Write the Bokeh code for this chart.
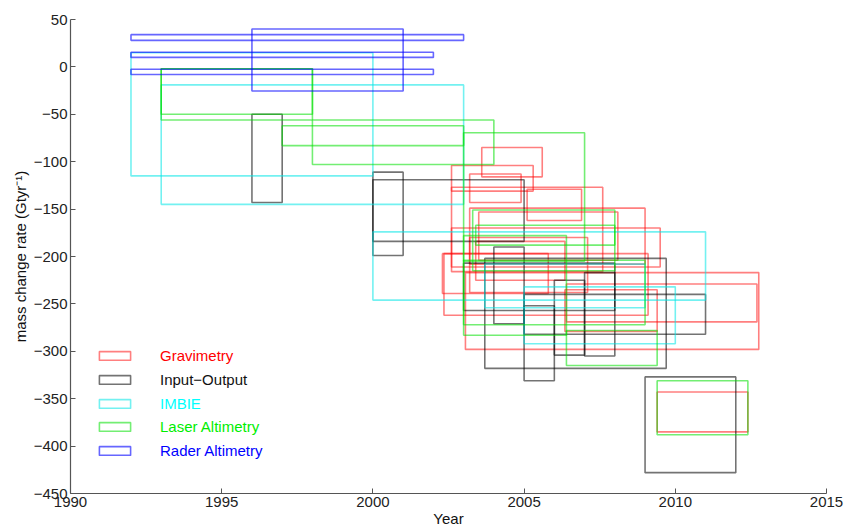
from bokeh.plotting import figure
from bokeh.models import Legend, LegendItem, FixedTicker, Range1d
from bokeh.embed import file_html
from bokeh.resources import INLINE

# ---------------- data (years / Gt per yr) ----------------
x_ticks = [1990, 1995, 2000, 2005, 2010, 2015]
y_ticks = [-450, -400, -350, -300, -250, -200, -150, -100, -50, 0, 50]

grav_start = [2003.6, 2002.6, 2003.2, 2005.1, 2002.6, 2003.2, 2003.5, 2002.6,
              2002.35, 2003.06, 2006.35, 2002.3, 2006.4, 2009.4, 2003.4, 2003.2]
grav_end = [2005.6, 2005.3, 2004.9, 2006.9, 2007.6, 2009.0, 2008.1, 2009.5,
            2009.1, 2012.76, 2009.4, 2005.8, 2012.7, 2012.4, 2006.35, 2007.1]
grav_low = [-116, -131, -143, -162, -216, -208, -204, -211,
            -262, -298, -279, -239, -269, -385, -225, -238]
grav_high = [-85, -104, -113, -129, -127, -149, -153, -170,
             -197, -217, -235, -197, -229, -343, -184, -180]

io_start = [1996, 2000, 2000, 2004, 2003.7, 2003, 2005, 2006, 2005, 2007, 2009]
io_end = [1997, 2001, 2005, 2005, 2009.7, 2008, 2011, 2007, 2006, 2008, 2012]
io_low = [-143, -199, -184, -271, -318, -257, -282, -304, -331, -305, -428]
io_high = [-50, -111, -119, -190, -202, -207, -240, -225, -252, -217, -327]

imbie_start = [1992, 1993, 2000, 2003.7, 2005]
imbie_end = [2000, 2003, 2011, 2009, 2010]
imbie_low = [-115, -145, -246, -254, -292]
imbie_high = [15, -19, -174, -208, -232]

laser_start = [1993, 1993, 1998, 1997, 2003, 2003.3, 2006.4, 2003, 2009.4, 2003.4, 2003]
laser_end = [1998, 1998, 2004, 2003, 2007, 2008, 2009.4, 2006.4, 2012.4, 2008, 2009]
laser_low = [-56, -50, -103, -83, -205, -215, -315, -283, -388, -188, -272]
laser_high = [-2, -2, -56, -62, -69.5, -151, -278, -178, -331, -167, -204]

radar_start = [1992, 1992, 1992, 1996]
radar_end = [2003, 2002, 2002, 2001]
radar_low = [28, 10, -8, -25.5]
radar_high = [34, 15.5, -2.5, 40]

series_names = ["Gravimetry", "Input\u2212Output", "IMBIE", "Laser Altimetry", "Rader Altimetry"]
series_colors = ["#ff0000", "#000000", "#00e5e5", "#00e000", "#0000ff"]
text_colors = ["#ff0000", "#111111", "#00ffff", "#00ee00", "#0000ff"]
series_alpha = [0.5, 0.55, 0.55, 0.55, 0.6]

series = [
    (grav_start, grav_end, grav_low, grav_high),
    (io_start, io_end, io_low, io_high),
    (imbie_start, imbie_end, imbie_low, imbie_high),
    (laser_start, laser_end, laser_low, laser_high),
    (radar_start, radar_end, radar_low, radar_high),
]

FONT = "Liberation Sans"

p = figure(width=846, height=530, output_backend="svg", toolbar_location=None,
           x_range=Range1d(1990, 2015), y_range=Range1d(-450, 50),
           min_border_left=70, min_border_right=20, min_border_top=19,
           min_border_bottom=37)
p.outline_line_color = None
p.grid.visible = False
p.background_fill_color = "white"

renderers = []
for (s, e, lo, hi), c, a in zip(series, series_colors, series_alpha):
    r = p.quad(left=s, right=e, bottom=lo, top=hi, fill_color=None,
               line_color=c, line_alpha=a, line_width=1.6)
    renderers.append(r)

p.xaxis.ticker = FixedTicker(ticks=x_ticks)
p.yaxis.ticker = FixedTicker(ticks=y_ticks)
for ax in (p.xaxis, p.yaxis):
    ax.major_tick_in = 5
    ax.major_tick_out = 0
    ax.minor_tick_in = 0
    ax.minor_tick_out = 0
    ax.axis_line_color = "#555555"
    ax.axis_line_width = 1.2
    ax.major_tick_line_color = "#555555"
    ax.major_label_text_font = FONT
    ax.major_label_text_font_size = "15px"
    ax.major_label_text_color = "#222222"
    ax.axis_label_text_font = FONT
    ax.axis_label_text_font_size = "15px"
    ax.axis_label_text_font_style = "normal"
    ax.axis_label_text_color = "#111111"

p.xaxis.major_label_standoff = 3
p.yaxis.major_label_standoff = 3
p.xaxis.axis_label = "Year"
p.xaxis.axis_label_standoff = 0
p.yaxis.axis_label = "mass change rate (Gtyr\u207b\u00b9)"
p.yaxis.axis_label_standoff = 2

row_y = [129, 105, 81, 58, 34]
for name, r, tc, yy in zip(series_names, renderers, text_colors, row_y):
    leg = Legend(items=[LegendItem(label=name, renderers=[r])],
                 location=(25, yy), orientation="vertical",
                 glyph_width=39, glyph_height=11, label_standoff=26,
                 label_height=16, padding=0, margin=0, spacing=0,
                 border_line_color=None, background_fill_alpha=0,
                 label_text_font=FONT, label_text_font_size="15px",
                 label_text_color=tc)
    p.add_layout(leg)

open("out.html", "w").write(file_html(p, INLINE))
